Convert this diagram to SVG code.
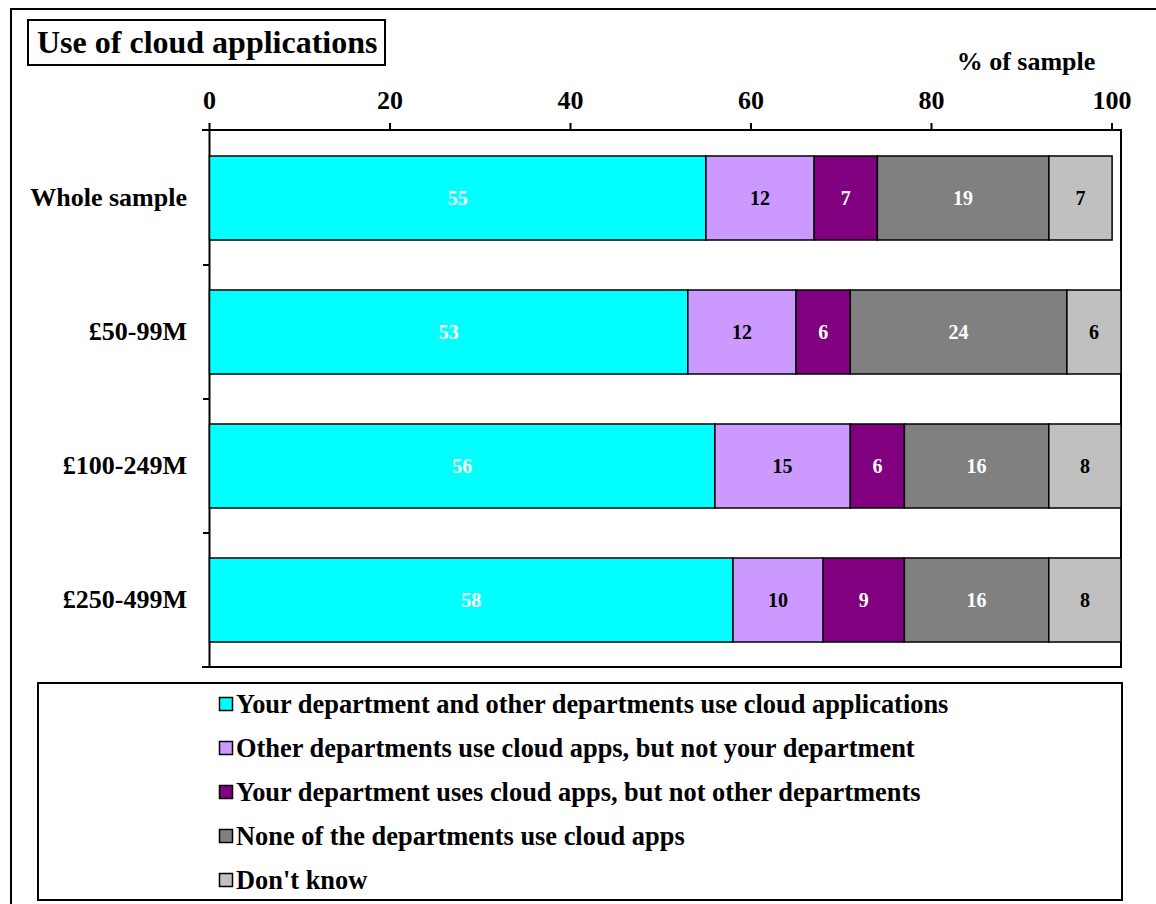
<svg xmlns="http://www.w3.org/2000/svg" width="1156" height="904" viewBox="0 0 1156 904">
  <style>
    text { font-family: "Liberation Serif", "Times New Roman", serif; font-weight: bold; fill: #000; }
    .title { font-size: 32px; }
    .axis { font-size: 26px; text-anchor: middle; }
    .unit { font-size: 26px; text-anchor: middle; }
    .cat { font-size: 26px; text-anchor: end; }
    .val { font-size: 20px; text-anchor: middle; }
    .val.w { fill: #fff; }
    .leg { font-size: 26.4px; }
    .line { stroke: #000; stroke-width: 2; fill: none; }
    .seg { stroke: #000; stroke-width: 1.5; }
    .c1 { fill: #00FFFF; }
    .c2 { fill: #CC99FF; }
    .c3 { fill: #800080; }
    .c4 { fill: #808080; }
    .c5 { fill: #C0C0C0; }
  </style>

  <rect width="1156" height="904" fill="#fff"/>
  <!-- chart frame -->
  <rect x="11" y="9" width="1160" height="910" class="line"/>

  <!-- title -->
  <g id="title">
    <rect x="28" y="20" width="357" height="45" class="line" stroke-width="1.5"/>
    <text x="37" y="53" class="title">Use of cloud applications</text>
  </g>

  <!-- value axis -->
  <g id="axis">
    <text x="1026" y="70" class="unit">% of sample</text>
    <text x="209.5" y="109" class="axis">0</text>
    <text x="390" y="109" class="axis">20</text>
    <text x="570.5" y="109" class="axis">40</text>
    <text x="751" y="109" class="axis">60</text>
    <text x="931.5" y="109" class="axis">80</text>
    <text x="1112" y="109" class="axis">100</text>
    <path class="line" d="M202 130H1121V667H202M209.5 123V667M390 123V130M570.5 123V130M751 123V130M931.5 123V130M1112 123V130M203 265H209.5M203 399H209.5M203 533H209.5"/>
  </g>

  <!-- Whole sample: 55 / 12 / 7 / 19 / 7 -->
  <g id="row-whole">
    <text x="187" y="206" class="cat">Whole sample</text>
    <rect class="seg c1" x="209.5" y="156" width="496.4" height="84"/>
    <rect class="seg c2" x="705.9" y="156" width="108.3" height="84"/>
    <rect class="seg c3" x="814.2" y="156" width="63.2" height="84"/>
    <rect class="seg c4" x="877.4" y="156" width="171.5" height="84"/>
    <rect class="seg c5" x="1048.9" y="156" width="63.2" height="84"/>
    <text x="457.7" y="205" class="val w">55</text>
    <text x="760" y="205" class="val">12</text>
    <text x="845.8" y="205" class="val w">7</text>
    <text x="963.1" y="205" class="val w">19</text>
    <text x="1080.5" y="205" class="val">7</text>
  </g>

  <!-- £50-99M: 53 / 12 / 6 / 24 / 6 -->
  <g id="row-50-99">
    <text x="187" y="340" class="cat">£50-99M</text>
    <rect class="seg c1" x="209.5" y="290" width="478.3" height="84"/>
    <rect class="seg c2" x="687.8" y="290" width="108.3" height="84"/>
    <rect class="seg c3" x="796.1" y="290" width="54.2" height="84"/>
    <rect class="seg c4" x="850.3" y="290" width="216.6" height="84"/>
    <rect class="seg c5" x="1066.9" y="290" width="54.1" height="84"/>
    <text x="448.7" y="339" class="val w">53</text>
    <text x="742" y="339" class="val">12</text>
    <text x="823.2" y="339" class="val w">6</text>
    <text x="958.6" y="339" class="val w">24</text>
    <text x="1094" y="339" class="val">6</text>
  </g>

  <!-- £100-249M: 56 / 15 / 6 / 16 / 8 -->
  <g id="row-100-249">
    <text x="187" y="474" class="cat">£100-249M</text>
    <rect class="seg c1" x="209.5" y="424" width="505.4" height="84"/>
    <rect class="seg c2" x="714.9" y="424" width="135.4" height="84"/>
    <rect class="seg c3" x="850.3" y="424" width="54.1" height="84"/>
    <rect class="seg c4" x="904.4" y="424" width="144.4" height="84"/>
    <rect class="seg c5" x="1048.8" y="424" width="72.2" height="84"/>
    <text x="462.2" y="473" class="val w">56</text>
    <text x="782.6" y="473" class="val">15</text>
    <text x="877.4" y="473" class="val w">6</text>
    <text x="976.6" y="473" class="val w">16</text>
    <text x="1084.9" y="473" class="val">8</text>
  </g>

  <!-- £250-499M: 58 / 10 / 9 / 16 / 8 -->
  <g id="row-250-499">
    <text x="187" y="608" class="cat">£250-499M</text>
    <rect class="seg c1" x="209.5" y="558" width="523.5" height="84"/>
    <rect class="seg c2" x="733" y="558" width="90.2" height="84"/>
    <rect class="seg c3" x="823.2" y="558" width="81.2" height="84"/>
    <rect class="seg c4" x="904.4" y="558" width="144.4" height="84"/>
    <rect class="seg c5" x="1048.8" y="558" width="72.2" height="84"/>
    <text x="471.3" y="607" class="val w">58</text>
    <text x="778.1" y="607" class="val">10</text>
    <text x="863.8" y="607" class="val w">9</text>
    <text x="976.6" y="607" class="val w">16</text>
    <text x="1084.9" y="607" class="val">8</text>
  </g>

  <!-- legend -->
  <g id="legend">
    <rect x="38" y="683" width="1084" height="217" class="line"/>
    <rect class="seg c1" x="219.5" y="697.5" width="13" height="13"/>
    <text x="236" y="713" class="leg">Your department and other departments use cloud applications</text>
    <rect class="seg c2" x="219.5" y="741.5" width="13" height="13"/>
    <text x="236" y="757" class="leg">Other departments use cloud apps, but not your department</text>
    <rect class="seg c3" x="219.5" y="785.5" width="13" height="13"/>
    <text x="236" y="801" class="leg">Your department uses cloud apps, but not other departments</text>
    <rect class="seg c4" x="219.5" y="829.5" width="13" height="13"/>
    <text x="236" y="845" class="leg">None of the departments use cloud apps</text>
    <rect class="seg c5" x="219.5" y="873.5" width="13" height="13"/>
    <text x="236" y="889" class="leg">Don't know</text>
  </g>
</svg>
